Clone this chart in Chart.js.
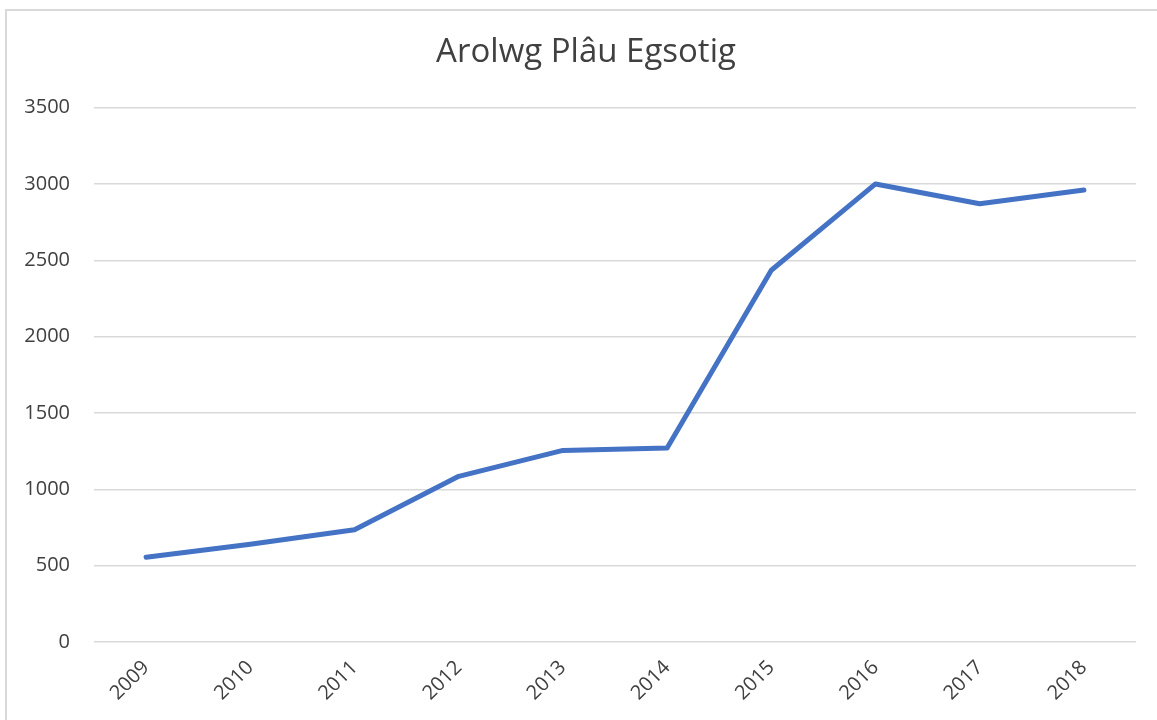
<!DOCTYPE html>
<html>
<head>
<meta charset="utf-8">
<script src="https://cdn.jsdelivr.net/npm/chart.js@4"></script>
<style>
  html, body { margin: 0; padding: 0; background: #fff; }
  #wrap { width: 1157px; height: 720px; position: relative; }
</style>
</head>
<body>
<div id="wrap"><canvas id="pestChart"></canvas></div>
<script>
// data
const years = ['2009', '2010', '2011', '2012', '2013', '2014', '2015', '2016', '2017', '2018'];
const surveyCounts = [555, 640, 735, 1085, 1255, 1270, 2435, 3000, 2870, 2960];
const yTicks = [0, 500, 1000, 1500, 2000, 2500, 3000, 3500];

// thin grey frame like the Excel chart area, and nudge the title a bit right
const frame = {
  id: 'frame',
  afterLayout(chart) {
    if (chart.titleBlock) chart.titleBlock.left = 36;
  },
  beforeDraw(chart) {
    const c = chart.ctx;
    c.save();
    c.strokeStyle = '#d9d9d9';
    c.lineWidth = 2;
    c.strokeRect(6, 10, 1300, 900);
    c.restore();
  }
};

const ctx = document.getElementById('pestChart').getContext('2d');
new Chart(ctx, {
  type: 'line',
  data: {
    labels: years,
    datasets: [{
      data: surveyCounts,
      borderColor: '#4472C4',
      borderWidth: 5,
      borderCapStyle: 'round',
      borderJoinStyle: 'round',
      pointRadius: 0,
      tension: 0,
      fill: false
    }]
  },
  options: {
    responsive: true,
    maintainAspectRatio: false,
    animation: false,
    layout: { padding: { left: 0, right: 21, top: 0, bottom: 0 } },
    plugins: {
      legend: { display: false },
      tooltip: { enabled: false },
      title: {
        display: true,
        text: 'Arolwg Plâu Egsotig',
        color: '#404040',
        font: { family: 'Open Sans', size: 33, weight: 'normal' },
        padding: { top: 33, bottom: 35 }
      }
    },
    scales: {
      x: {
        offset: true,
        grid: { display: false, drawTicks: false },
        border: { display: false },
        ticks: {
          color: '#404040',
          font: { family: 'Open Sans', size: 20 },
          minRotation: 45,
          maxRotation: 45,
          padding: 14
        },
        afterFit(scale) { scale.height = 78; }
      },
      y: {
        min: 0,
        max: 3500,
        afterBuildTicks(scale) { scale.ticks = yTicks.map(v => ({ value: v })); },
        grid: { color: '#d9d9d9', lineWidth: 1.5, drawTicks: false },
        border: { display: false },
        ticks: {
          color: '#404040',
          font: { family: 'Open Sans', size: 20 },
          padding: 24,
          callback: v => String(v)
        },
        afterFit(scale) { scale.width = 94; }
      }
    }
  },
  plugins: [frame]
});
</script>
</body>
</html>
